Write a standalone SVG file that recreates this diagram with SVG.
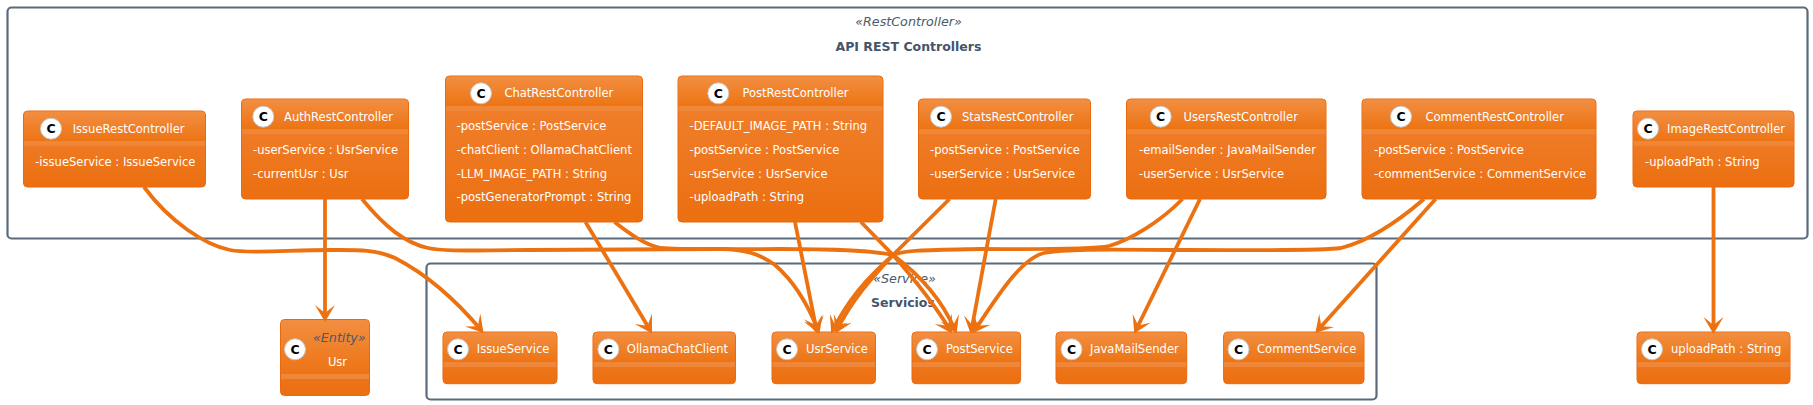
<svg xmlns="http://www.w3.org/2000/svg" width="1813" height="405" viewBox="0 0 1813 405">
<style>
text{font-family:"DejaVu Sans",sans-serif}
.cl{fill:none;stroke:#5B6B7B;stroke-width:2.200}
.box{fill:url(#b);stroke:#E8690F;stroke-width:1}
.hd{fill:url(#h)}
.sp{fill:#F08638}
.ci{fill:#fff;stroke:#C9C9C9;stroke-width:1}
.c{font-weight:bold;font-size:12.500px;fill:#000;text-anchor:middle}
.n{font-size:11.550px;fill:#fff}
.m{font-size:11.550px;fill:#fff}
.st{font-style:italic;font-size:12.700px;fill:#4A5A6A}
.ti{font-weight:bold;font-size:12.500px;fill:#44546A;text-anchor:middle}
.mid{text-anchor:middle}
#conn path{fill:none;stroke:#EC7211;stroke-width:3.800;marker-end:url(#a)}
</style>
<defs>
<linearGradient id="b" x1="0" y1="0" x2="0" y2="1"><stop offset="0" stop-color="#F08232"/><stop offset="1" stop-color="#EC6F10"/></linearGradient>
<linearGradient id="h" x1="0" y1="0" x2="0" y2="1"><stop offset="0" stop-color="#F28E41"/><stop offset="1" stop-color="#ED7414"/></linearGradient>
<marker id="a" markerUnits="userSpaceOnUse" markerWidth="24" markerHeight="24" refX="16" refY="12" orient="auto" overflow="visible"><path d="M20,12 L3,2 L11,12 L3,22 Z" fill="#EC7211"/></marker>
</defs>
<g id="cluster-api"><rect class="cl" x="7.500" y="7.500" width="1800" height="231" rx="4"/><text class="st mid" x="908.500" y="25.500">«RestController»</text><text class="ti" x="908.500" y="50.500">API REST Controllers</text></g>
<g id="cluster-services"><rect class="cl" x="426.500" y="263.500" width="950" height="136" rx="4"/><text class="st mid" x="904.500" y="282.500">«Service»</text><text class="ti" x="903" y="306.500">Servicios</text></g>
<g id="IssueRestController"><rect class="box" x="23.500" y="111" width="182" height="76" rx="4"/><path class="hd" d="M24,141V115q0-3.500 3.500-3.500H201.500q3.500 0 3.500 3.500V141Z"/><rect class="sp" x="24" y="141" width="181" height="5"/><circle class="ci" cx="51" cy="128.700" r="10.500"/><text class="c" x="51" y="133.200">C</text><text class="n" x="72.700" y="132.800">IssueRestController</text><text class="m" x="35.200" y="165.700">-issueService : IssueService</text></g>
<g id="AuthRestController"><rect class="box" x="241.500" y="99" width="167" height="100" rx="4"/><path class="hd" d="M242,129V103q0-3.500 3.500-3.500H404.500q3.500 0 3.500 3.500V129Z"/><rect class="sp" x="242" y="129" width="166" height="5"/><circle class="ci" cx="263.300" cy="116.700" r="10.500"/><text class="c" x="263.300" y="121.200">C</text><text class="n" x="284" y="120.800">AuthRestController</text><text class="m" x="253" y="154">-userService : UsrService</text><text class="m" x="253" y="177.700">-currentUsr : Usr</text></g>
<g id="ChatRestController"><rect class="box" x="445.500" y="76" width="197" height="146" rx="4"/><path class="hd" d="M446,106V80q0-3.500 3.500-3.500H638.500q3.500 0 3.500 3.500V106Z"/><rect class="sp" x="446" y="106" width="196" height="5"/><circle class="ci" cx="481" cy="93.300" r="10.500"/><text class="c" x="481" y="97.800">C</text><text class="n" x="504.400" y="97.300">ChatRestController</text><text class="m" x="456.500" y="130.300">-postService : PostService</text><text class="m" x="456.500" y="154">-chatClient : OllamaChatClient</text><text class="m" x="456.500" y="177.700">-LLM_IMAGE_PATH : String</text><text class="m" x="456.500" y="201.300">-postGeneratorPrompt : String</text></g>
<g id="PostRestController"><rect class="box" x="678" y="76" width="205" height="146" rx="4"/><path class="hd" d="M678.500,106V80q0-3.500 3.500-3.500H879q3.500 0 3.500 3.500V106Z"/><rect class="sp" x="678.500" y="106" width="204" height="5"/><circle class="ci" cx="718.300" cy="93.300" r="10.500"/><text class="c" x="718.300" y="97.800">C</text><text class="n" x="742.400" y="97.300">PostRestController</text><text class="m" x="689.500" y="130.300">-DEFAULT_IMAGE_PATH : String</text><text class="m" x="689.500" y="154">-postService : PostService</text><text class="m" x="689.500" y="177.700">-usrService : UsrService</text><text class="m" x="689.500" y="201.300">-uploadPath : String</text></g>
<g id="StatsRestController"><rect class="box" x="918.500" y="99" width="172" height="100" rx="4"/><path class="hd" d="M919,129V103q0-3.500 3.500-3.500H1086.500q3.500 0 3.500 3.500V129Z"/><rect class="sp" x="919" y="129" width="171" height="5"/><circle class="ci" cx="941" cy="116.700" r="10.500"/><text class="c" x="941" y="121.200">C</text><text class="n" x="962" y="120.800">StatsRestController</text><text class="m" x="930" y="154">-postService : PostService</text><text class="m" x="930" y="177.700">-userService : UsrService</text></g>
<g id="UsersRestController"><rect class="box" x="1126.500" y="99" width="199.500" height="100" rx="4"/><path class="hd" d="M1127,129V103q0-3.500 3.500-3.500H1322q3.500 0 3.500 3.500V129Z"/><rect class="sp" x="1127" y="129" width="198.500" height="5"/><circle class="ci" cx="1160.700" cy="116.700" r="10.500"/><text class="c" x="1160.700" y="121.200">C</text><text class="n" x="1183.600" y="120.800">UsersRestController</text><text class="m" x="1139" y="154">-emailSender : JavaMailSender</text><text class="m" x="1139" y="177.700">-userService : UsrService</text></g>
<g id="CommentRestController"><rect class="box" x="1362" y="99" width="234" height="100" rx="4"/><path class="hd" d="M1362.500,129V103q0-3.500 3.500-3.500H1592q3.500 0 3.500 3.500V129Z"/><rect class="sp" x="1362.500" y="129" width="233" height="5"/><circle class="ci" cx="1401" cy="116.700" r="10.500"/><text class="c" x="1401" y="121.200">C</text><text class="n" x="1425.400" y="120.800">CommentRestController</text><text class="m" x="1374" y="154">-postService : PostService</text><text class="m" x="1374" y="177.700">-commentService : CommentService</text></g>
<g id="ImageRestController"><rect class="box" x="1633" y="111" width="161" height="76" rx="4"/><path class="hd" d="M1633.500,141V115q0-3.500 3.500-3.500H1790q3.500 0 3.500 3.500V141Z"/><rect class="sp" x="1633.500" y="141" width="160" height="5"/><circle class="ci" cx="1648" cy="128.700" r="10.500"/><text class="c" x="1648" y="133.200">C</text><text class="n" x="1667" y="132.800">ImageRestController</text><text class="m" x="1645" y="165.700">-uploadPath : String</text></g>
<g id="Usr"><rect class="box" x="280.500" y="319.500" width="89" height="76" rx="4"/><path class="hd" d="M281,374V323.500q0-3.500 3.500-3.500H365.500q3.500 0 3.500 3.500V374Z"/><rect class="sp" x="281" y="374" width="88" height="5"/><circle class="ci" cx="295" cy="349.300" r="10.500"/><text class="c" x="295" y="353.800">C</text><text class="st" x="313" y="341.700">«Entity»</text><text class="n mid" x="337.500" y="365.700">Usr</text></g>
<g id="IssueService"><rect class="box" x="443" y="332" width="114" height="51.700" rx="4"/><path class="hd" d="M443.500,362V336q0-3.500 3.500-3.500H553q3.500 0 3.500 3.500V362Z"/><rect class="sp" x="443.500" y="362" width="113" height="5"/><circle class="ci" cx="458" cy="349.300" r="10.500"/><text class="c" x="458" y="353.800">C</text><text class="n" x="476.800" y="353.300">IssueService</text></g>
<g id="OllamaChatClient"><rect class="box" x="593" y="332" width="142.500" height="51.700" rx="4"/><path class="hd" d="M593.500,362V336q0-3.500 3.500-3.500H731.500q3.500 0 3.500 3.500V362Z"/><rect class="sp" x="593.500" y="362" width="141.500" height="5"/><circle class="ci" cx="608.400" cy="349.300" r="10.500"/><text class="c" x="608.400" y="353.800">C</text><text class="n" x="626.800" y="353.300">OllamaChatClient</text></g>
<g id="UsrService"><rect class="box" x="772" y="332" width="103.500" height="51.700" rx="4"/><path class="hd" d="M772.500,362V336q0-3.500 3.500-3.500H871.500q3.500 0 3.500 3.500V362Z"/><rect class="sp" x="772.500" y="362" width="102.500" height="5"/><circle class="ci" cx="787" cy="349.300" r="10.500"/><text class="c" x="787" y="353.800">C</text><text class="n" x="806" y="353.300">UsrService</text></g>
<g id="PostService"><rect class="box" x="912" y="332" width="108.600" height="51.700" rx="4"/><path class="hd" d="M912.500,362V336q0-3.500 3.500-3.500H1016.500q3.500 0 3.500 3.500V362Z"/><rect class="sp" x="912.500" y="362" width="107.600" height="5"/><circle class="ci" cx="927" cy="349.300" r="10.500"/><text class="c" x="927" y="353.800">C</text><text class="n" x="946" y="353.300">PostService</text></g>
<g id="JavaMailSender"><rect class="box" x="1056" y="332" width="130.700" height="51.700" rx="4"/><path class="hd" d="M1056.500,362V336q0-3.500 3.500-3.500H1182.500q3.500 0 3.500 3.500V362Z"/><rect class="sp" x="1056.500" y="362" width="129.700" height="5"/><circle class="ci" cx="1071.500" cy="349.300" r="10.500"/><text class="c" x="1071.500" y="353.800">C</text><text class="n" x="1090" y="353.300">JavaMailSender</text></g>
<g id="CommentService"><rect class="box" x="1223.600" y="332" width="140.400" height="51.700" rx="4"/><path class="hd" d="M1224,362V336q0-3.500 3.500-3.500H1360q3.500 0 3.500 3.500V362Z"/><rect class="sp" x="1224" y="362" width="139.500" height="5"/><circle class="ci" cx="1238.500" cy="349.300" r="10.500"/><text class="c" x="1238.500" y="353.800">C</text><text class="n" x="1257" y="353.300">CommentService</text></g>
<g id="uploadPath"><rect class="box" x="1637" y="332" width="153" height="51.700" rx="4"/><path class="hd" d="M1637.500,362V336q0-3.500 3.500-3.500H1786q3.500 0 3.500 3.500V362Z"/><rect class="sp" x="1637.500" y="362" width="152" height="5"/><circle class="ci" cx="1652" cy="349.300" r="10.500"/><text class="c" x="1652" y="353.800">C</text><text class="n" x="1671" y="353.300">uploadPath : String</text></g>
<g id="conn">
<path d="M144,187C170,222 205,245 230,250C250,254 290,250 330,250C355,250 375,249 395,258C430,276 460,305 481,330"/>
<path d="M325,199V318"/>
<path d="M362,199C385,227 405,243 428,248C445,252 480,250 530,250L720,249C745,249 760,254 775,265C795,282 808,305 818,330"/>
<path d="M585.500,222L650,330"/>
<path d="M614.500,222C630,234 645,245 661,248C680,250 720,249 780,249C830,249 870,250 893,255C920,275 942,300 955,330"/>
<path d="M795,222L816.500,330"/>
<path d="M861,222L893,255C915,280 935,305 950,330"/>
<path d="M949.500,199L893,255C865,280 848,300 833,330"/>
<path d="M995.700,199L971.500,330"/>
<path d="M1182.500,199C1160,222 1130,240 1109,246C1090,250 1030,249 980,249C930,250 905,250 893,255C870,280 852,300 837,330"/>
<path d="M1200,199L1136,330"/>
<path d="M1424,199C1395,224 1365,242 1341,248C1320,251 1250,250 1190,250C1130,250 1070,248 1044,253C1020,259 995,300 975,330"/>
<path d="M1435.600,199L1318,330"/>
<path d="M1713.500,187V330"/>
</g>
</svg>
